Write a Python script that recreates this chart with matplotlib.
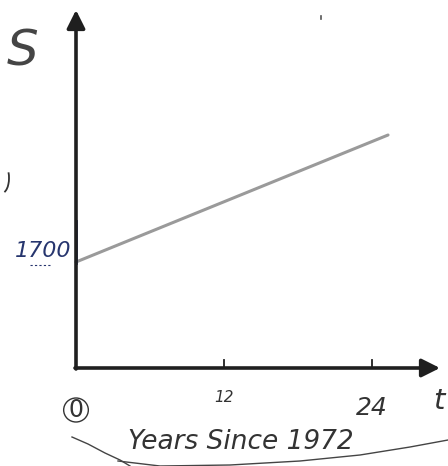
import matplotlib
matplotlib.use("Agg")
import matplotlib.pyplot as plt
import numpy as np

# Linear model: S = 1700 + rate * t, t in years since 1972
t_values = [0, 25.3]
s_start = 1700
rate = 80.5
s_values = [s_start + rate * t for t in t_values]
x_ticks = [0, 12, 24]
x_tick_labels = ["0", "12", "24"]

fig = plt.figure(figsize=(4.48, 4.66), dpi=100)
ax = fig.add_axes([0, 0, 1, 1])
px_per_year = 148 / 12
units_per_px = 1700 / 106
ax.set_xlim(-76 / px_per_year, (448 - 76) / px_per_year)
ax.set_ylim(-98 * units_per_px, 368 * units_per_px)
ax.axis("off")

ink = "#1f1f1f"
# axes with arrowheads
ax.annotate("", xy=(0, 358 * units_per_px), xytext=(0, -1 * units_per_px),
            arrowprops=dict(arrowstyle="-|>,head_length=1.1,head_width=0.55",
                            lw=2.6, color=ink, shrinkA=0, shrinkB=0))
ax.annotate("", xy=(364 / px_per_year, 0), xytext=(-1 / px_per_year, 0),
            arrowprops=dict(arrowstyle="-|>,head_length=1.1,head_width=0.55",
                            lw=2.6, color=ink, shrinkA=0, shrinkB=0))

# tick marks
for xt in x_ticks[1:]:
    ax.plot([xt, xt], [0, 8 * units_per_px], color=ink, lw=1.3)

# the line
ax.plot(t_values, s_values, color="#9a9a9a", lw=2.2, solid_capstyle="round")

ax.text(-4.3, 5080, "S", fontsize=36, ha="center", va="center",
        color="#454545", family="DejaVu Sans", fontstyle="italic")
ax.text(-0.35, s_start + 180, "1700", fontsize=16, ha="right", va="center",
        color="#26356e", fontstyle="italic", family="DejaVu Sans")
ax.plot([-3.7, -2.1], [s_start - 50, s_start - 50], color="#26356e",
        lw=0.8, ls=(0, (2, 2)))
ax.plot([0.05, 0.05], [s_start - 40, s_start + 650], color="#26356e", lw=1.3)

ax.text(0, -42 * units_per_px, "0", fontsize=17, ha="center", va="center",
        color="#333333", family="DejaVu Sans")
ax.add_patch(matplotlib.patches.Ellipse((0, -42 * units_per_px), 2.0,
                                         24 * units_per_px, fill=False,
                                         ec="#333333", lw=1.0))
ax.text(12, -30 * units_per_px, x_tick_labels[1], fontsize=11, ha="center",
        va="center", color="#333333", fontstyle="italic")
ax.text(24, -40 * units_per_px, x_tick_labels[2], fontsize=18, ha="center",
        va="center", color="#333333", fontstyle="italic")
ax.text(29.4, -33 * units_per_px, "t", fontsize=21, ha="center",
        va="center", color="#333333", fontstyle="italic")
ax.text(13.4, -74 * units_per_px, "Years Since 1972", fontsize=19,
        ha="center", va="center", color="#333333", fontstyle="italic")

# swoosh under the caption, in figure pixels
def fig_px(x, y):
    return x / 448, 1 - y / 466

sx = np.array([72, 88, 105, 120, 130])
sy = np.array([437, 444, 453, 460, 466])
fig.add_artist(plt.Line2D(*zip(*[fig_px(a, b) for a, b in zip(sx, sy)]),
                          color="#444444", lw=1.0))
lx = np.array([118, 160, 230, 300, 360, 410, 448])
ly = np.array([461, 466, 465, 461, 455, 447, 440])
fig.add_artist(plt.Line2D(*zip(*[fig_px(a, b) for a, b in zip(lx, ly)]),
                          color="#444444", lw=1.0))
# stray pen strokes
fig.add_artist(matplotlib.patches.Arc(fig_px(2, 178), 14 / 448, 30 / 466,
                                      theta1=-80, theta2=40, color="#333333",
                                      lw=1.3))
fig.add_artist(plt.Line2D(*zip(fig_px(321, 16), fig_px(321, 19)),
                          color="#555555", lw=1.2))

fig.savefig("out.png", dpi=100)
